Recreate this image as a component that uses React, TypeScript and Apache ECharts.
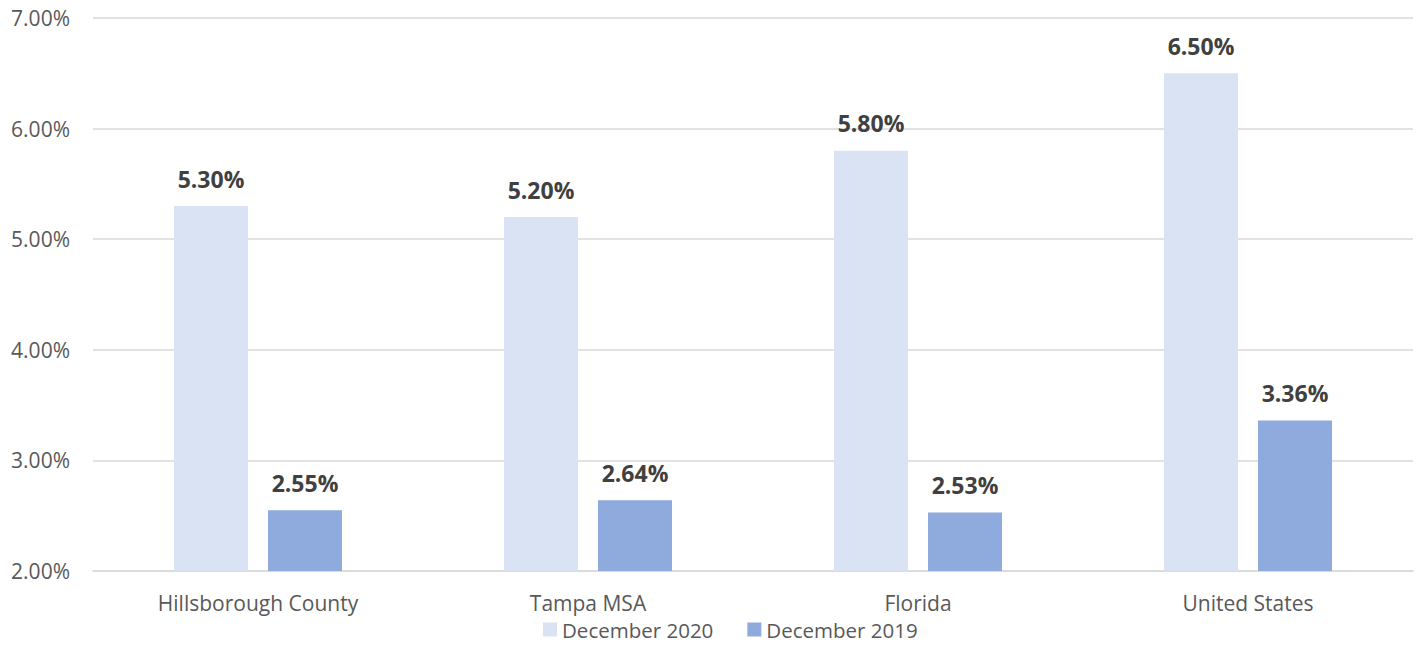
import React, { useEffect, useRef } from "react";
import * as echarts from "echarts";

const categories = ["Hillsborough County", "Tampa MSA", "Florida", "United States"];
const dec2020 = [5.3, 5.2, 5.8, 6.5];
const dec2019 = [2.55, 2.64, 2.53, 3.36];
const seriesNames = ["December 2020", "December 2019"];

export default function App() {
  const ref = useRef<HTMLDivElement>(null);
  useEffect(() => {
    document.body.style.margin = "0";
    const chart = echarts.init(ref.current!, null, { renderer: "svg" });
    const font = "'Open Sans', 'Noto Sans', sans-serif";
    const label = {
      show: true,
      position: "top",
      distance: 16,
      fontFamily: font,
      fontSize: 23,
      fontWeight: "bold",
      color: "#404040",
      formatter: (p: any) => p.value.toFixed(2) + "%",
    };
    chart.setOption({
      animation: false,
      textStyle: { fontFamily: font },
      grid: { left: 93, right: 5, top: 18, bottom: 74, containLabel: false },
      legend: {
        top: 619,
        left: 543,
        padding: 0,
        itemWidth: 14,
        itemHeight: 14,
        itemGap: 34,
        icon: "rect",
        textStyle: { fontSize: 20.5, color: "#595959", fontFamily: font, lineHeight: 20 },
        data: seriesNames,
      },
      xAxis: {
        type: "category",
        data: categories,
        axisLine: { lineStyle: { color: "#d9d9d9", width: 1.5 } },
        axisTick: { show: false },
        axisLabel: { fontSize: 21, color: "#595959", margin: 21, fontFamily: font },
      },
      yAxis: {
        type: "value",
        min: 2,
        max: 7,
        interval: 1,
        axisLine: { show: false },
        axisTick: { show: false },
        splitLine: { lineStyle: { color: "#d9d9d9", width: 1.5 } },
        axisLabel: {
          fontSize: 21,
          color: "#595959",
          margin: 23,
          fontFamily: font,
          formatter: (v: number) => v.toFixed(2) + "%",
        },
      },
      series: [
        {
          name: seriesNames[0],
          type: "bar",
          data: dec2020,
          barWidth: 74,
          barGap: "27%",
          itemStyle: { color: "#dae3f3" },
          label,
        },
        {
          name: seriesNames[1],
          type: "bar",
          data: dec2019,
          barWidth: 74,
          itemStyle: { color: "#8faadc" },
          label,
        },
      ],
    });
    return () => chart.dispose();
  }, []);
  return <div ref={ref} style={{ width: 1418, height: 645 }} />;
}
